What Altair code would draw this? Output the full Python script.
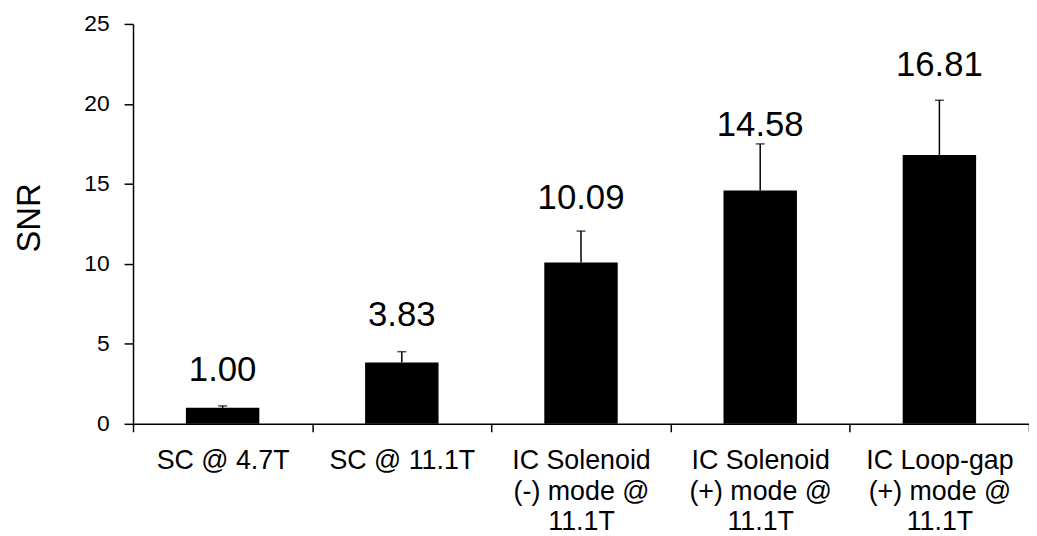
import altair as alt
import pandas as pd

# ---- data ----
categories = [
    "SC @ 4.7T",
    "SC @ 11.1T",
    "IC Solenoid\n(-) mode @\n11.1T",
    "IC Solenoid\n(+) mode @\n11.1T",
    "IC Loop-gap\n(+) mode @\n11.1T",
]
snr = [1.00, 3.83, 10.09, 14.58, 16.81]
snr_err = [0.12, 0.68, 1.96, 2.92, 3.42]
value_labels = ["1.00", "3.83", "10.09", "14.58", "16.81"]
label_pos = [2.68, 6.09, 13.45, 17.98, 21.74]
y_ticks = [0, 5, 10, 15, 20, 25]

df = pd.DataFrame({
    "cat": categories,
    "snr": snr,
    "err": snr_err,
    "lab": value_labels,
    "labpos": label_pos,
})

FONT = "Liberation Sans"

x_enc = alt.X(
    "cat:N",
    sort=None,
    title=None,
    scale=alt.Scale(paddingInner=0, paddingOuter=0),
    axis=alt.Axis(
        tickBand="extent",
        tickSize=8,
        tickColor="black",
        tickWidth=1.5,
        domainColor="black",
        domainWidth=1.5,
        labelFont=FONT,
        labelFontSize=27,
        labelColor="black",
        labelAngle=0,
        labelPadding=16,
        labelLineHeight=31,
        labelBaseline="top",
        labelExpr="split(datum.label, '\\n')",
        labelLimit=400,
        labelOverlap=False,
        labelBound=False,
        grid=False,
    ),
)

y_axis = alt.Axis(
    values=y_ticks,
    title="SNR",
    titleFont=FONT,
    titleFontSize=33,
    titleFontWeight="normal",
    titleColor="black",
    titleAngle=-90,
    titleX=-104,
    titleY=195,
    titleAlign="center",
    titleBaseline="middle",
    labelFont=FONT,
    labelFontSize=23,
    labelColor="black",
    labelPadding=15,
    tickSize=9,
    tickColor="black",
    tickWidth=1.5,
    domainColor="black",
    domainWidth=1.5,
    grid=False,
)
y_scale = alt.Scale(domain=[0, 25], nice=False, zero=True)


def ye(field):
    return alt.Y(field, scale=y_scale, axis=y_axis, title="SNR")


base = alt.Chart(df).transform_calculate(top="datum.snr + datum.err")

bars = base.mark_bar(size=74, color="black").encode(x=x_enc, y=ye("snr:Q"))
rules = base.mark_rule(color="black", strokeWidth=1.5).encode(
    x=x_enc, y=ye("snr:Q"), y2="top:Q"
)
caps = base.mark_tick(color="black", size=9, thickness=1.5).encode(
    x=x_enc, y=ye("top:Q")
)
texts = base.mark_text(
    font=FONT, fontSize=35, color="black", align="center", baseline="alphabetic"
).encode(x=x_enc, y=ye("labpos:Q"), text="lab:N")

chart = (
    alt.layer(bars, rules, caps, texts)
    .properties(
        width=903,
        height=403,
        autosize=alt.AutoSizeParams(type="none"),
        padding={"left": 126, "top": 14, "right": 0, "bottom": 111},
        background="white",
    )
    .configure_view(stroke=None)
)

chart.save("out.html", embed_options={"renderer": "svg", "actions": False})
